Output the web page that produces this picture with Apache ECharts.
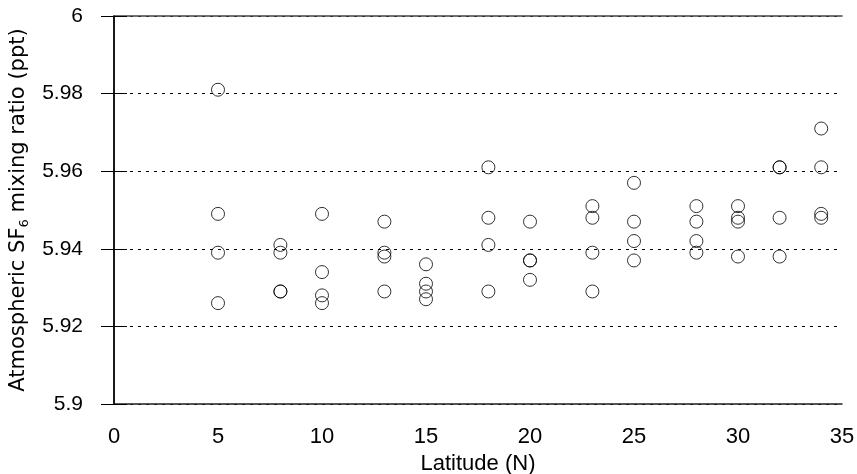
<!DOCTYPE html>
<html><head><meta charset="utf-8">
<script src="https://cdn.jsdelivr.net/npm/echarts@6/dist/echarts.min.js"></script>
<style>html,body{margin:0;padding:0;background:#fff}#c{width:857px;height:474px}</style>
</head><body><div id="c"></div>
<script>
const latitudes = [5,5,5,5, 8,8,8,8, 10,10,10,10, 13,13,13,13, 15,15,15,15, 18,18,18,18, 20,20,20,20, 23,23,23,23, 25,25,25,25, 28,28,28,28, 30,30,30,30, 32,32,32,32, 34,34,34,34];
const sf6 = [5.981,5.949,5.939,5.926, 5.941,5.939,5.929,5.929, 5.949,5.934,5.928,5.926, 5.947,5.939,5.938,5.929, 5.936,5.931,5.929,5.927, 5.961,5.948,5.941,5.929, 5.947,5.937,5.937,5.932, 5.951,5.948,5.939,5.929, 5.957,5.947,5.942,5.937, 5.951,5.947,5.942,5.939, 5.951,5.948,5.947,5.938, 5.961,5.961,5.948,5.938, 5.971,5.961,5.949,5.948];
const xTicks = [0,5,10,15,20,25,30,35];
const yTicks = [5.9,5.92,5.94,5.96,5.98,6];

const points = latitudes.map((x,i)=>[x, sf6[i]]);
const numFont = "'Liberation Sans',sans-serif";
const chart = echarts.init(document.getElementById('c'), null, {renderer:'canvas'});
chart.setOption({
  animation:false,
  backgroundColor:'#fff',
  grid:{left:114, right:15, top:16, bottom:70, containLabel:false, outerBoundsMode:'none'},
  xAxis:[{
    type:'value', min:xTicks[0], max:xTicks[xTicks.length-1], interval:5,
    name:'Latitude (N)', nameLocation:'middle', nameGap:49,
    nameTextStyle:{fontFamily:numFont, fontSize:22, color:'#000'},
    axisLine:{show:true, onZero:false, lineStyle:{color:'#222', width:1.5}},
    axisTick:{show:false}, splitLine:{show:false},
    axisLabel:{fontFamily:numFont, fontSize:22, color:'#000', margin:22}
  },{
    type:'value', position:'top', min:0, max:35, interval:5,
    axisLine:{show:true, onZero:false, lineStyle:{color:'#444', width:1.5}},
    axisTick:{show:false}, axisLabel:{show:false}, splitLine:{show:false}
  }],
  yAxis:[{
    type:'value', min:yTicks[0], max:yTicks[yTicks.length-1], interval:0.02,
    name:'{a|Atmospheric SF}{s|6}{a| mixing ratio (ppt)}',
    nameLocation:'middle', nameGap:81, nameRotate:90,
    nameTextStyle:{rich:{
      a:{fontFamily:"'DejaVu Sans',sans-serif", fontSize:21, color:'#000'},
      s:{fontFamily:"'DejaVu Sans',sans-serif", fontSize:13, color:'#000', padding:[13,0,0,0]}
    }},
    axisLine:{show:true, lineStyle:{color:'#333', width:1.5}},
    axisTick:{show:true, inside:true, length:13, lineStyle:{color:'#000'}},
    axisLabel:{fontFamily:numFont, fontSize:21, color:'#000', margin:31,
      formatter:v=>String(+(+v).toFixed(2))},
    splitLine:{show:true, lineStyle:{color:'#000', type:[3,5], width:1}}
  },{
    type:'value', position:'right', min:5.9, max:6, interval:0.02,
    axisLine:{show:true, lineStyle:{color:'#000', width:1.5}},
    axisTick:{show:true, inside:true, length:13, lineStyle:{color:'#000'}},
    axisLabel:{show:false}, splitLine:{show:false}
  }],
  series:[{
    type:'scatter', data:points, symbol:'circle', symbolSize:13,
    itemStyle:{color:'rgba(255,255,255,0)', borderColor:'#000', borderWidth:1}
  }]
});
</script></body></html>
